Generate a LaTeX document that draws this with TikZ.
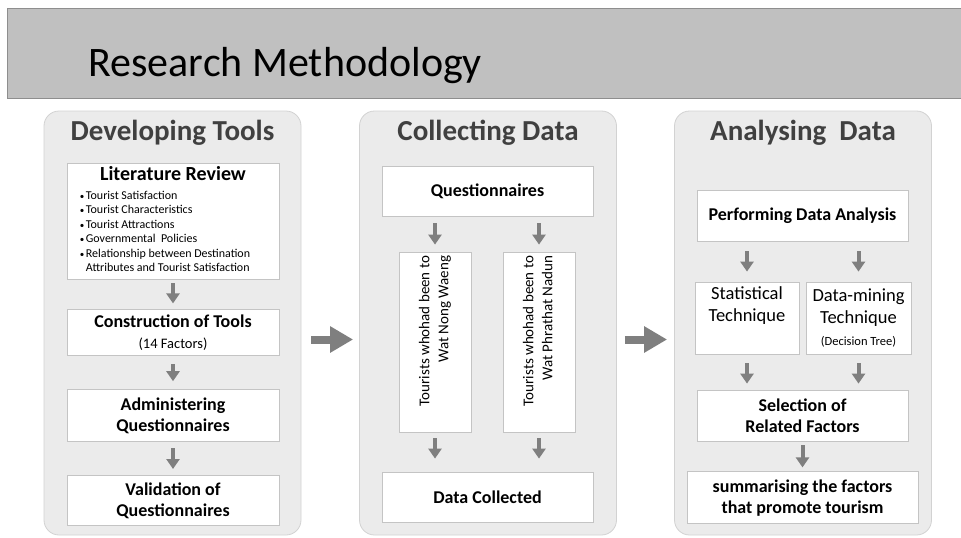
\documentclass[tikz,border=0pt]{standalone}
\usepackage{fontspec}
\setmainfont{Carlito}
\usepackage{graphicx}
\usepackage{tikz}
\usetikzlibrary{arrows.meta,positioning}

\definecolor{bandgray}{HTML}{C0C0C0}
\definecolor{bandline}{HTML}{8E8E8E}
\definecolor{panelfill}{HTML}{EBEBEB}
\definecolor{panelline}{HTML}{D2D2D2}
\definecolor{boxline}{HTML}{C4C4C4}
\definecolor{arrowgray}{HTML}{7F7F7F}
\definecolor{headtext}{HTML}{404040}

\newcommand{\boxbf}{\bfseries\fontsize{18}{21}\selectfont}
\newcommand{\subline}[1]{{\fontsize{12.5}{20}\selectfont #1}}

\begin{document}
\begin{tikzpicture}[x=1pt,y=-1pt,node distance=30pt]
  \tikzstyle{panel}=[draw=panelline,fill=panelfill,line width=0.8pt,rounded corners=15pt,
                     minimum width=257pt,minimum height=424pt]
  \tikzstyle{paneltitle}=[text=headtext,font=\bfseries\fontsize{29}{32}\selectfont]
  \tikzstyle{box}=[draw=boxline,fill=white,line width=0.8pt,align=center,inner sep=2pt,
                   minimum width=212pt,font=\boxbf]
  \tikzstyle{tallbox}=[box,minimum width=72pt,minimum height=180pt,
                       font=\fontsize{15}{19}\selectfont]
  \tikzstyle{flow}=[-{Triangle[width=13pt,length=10pt]},line width=4pt,color=arrowgray]
  \tikzstyle{bigflow}=[-{Triangle[width=25pt,length=23pt]},line width=8pt,color=arrowgray]

  \useasboundingbox (0,0) rectangle (961,538);

  % title band
  \fill[bandgray] (7,8) rectangle (961,98);
  \draw[bandline,line width=1pt] (961,8) -- (7,8) -- (7,98) -- (961,98);
  \node[anchor=base west,font=\fontsize{42}{48}\selectfont] (title) at (85,76) {Research Methodology};

  % three stages
  \node[panel] (devp) at (172.5,323) {};
  \node[panel] (colp) at (488,323) {};
  \node[panel] (anap) at (803,323) {};
  \node[paneltitle] (devt) at (172.5,133) {Developing Tools};
  \node[paneltitle] (colt) at (488,133) {Collecting Data};
  \node[paneltitle] (anat) at (803,133) {Analysing~~Data};

  % developing tools
  \node[box,minimum height=116pt,font=\bfseries\fontsize{20}{22}\selectfont] (lit) at (173,221)
    {Literature Review\\[-3pt]
     \mdseries\fontsize{12}{14.5}\selectfont
     \begin{tabular}[t]{@{}l@{\hspace{1.5pt}}l@{}}
       {\small\textbullet} & Tourist Satisfaction\\
       {\small\textbullet} & Tourist Characteristics\\
       {\small\textbullet} & Tourist Attractions\\
       {\small\textbullet} & Governmental~ Policies\\
       {\small\textbullet} & Relationship between Destination\\
                           & Attributes and Tourist Satisfaction
     \end{tabular}\hspace*{16pt}};
  \node[box,minimum height=46pt] (cons) [below=30pt of lit]
    {Construction of Tools\\{\mdseries\fontsize{14.5}{17}\selectfont (14 Factors)}};
  \node[box,minimum height=52pt] (admin) [below=33pt of cons] {Administering\\Questionnaires};
  \node[box,minimum height=50pt] (valid) [below=33pt of admin] {Validation of\\Questionnaires};

  % collecting data
  \node[box,minimum width=211pt,minimum height=50pt] (quest) at (487.5,191) {Questionnaires};
  \node[tallbox] (waeng) at (435,342)
    {\rotatebox{90}{\hspace{22pt}\begin{tabular}{@{}r@{}}Tourists whohad been to\\Wat Nong Waeng\end{tabular}}};
  \node[tallbox] (nadun) at (539,342)
    {\rotatebox{90}{\hspace{22pt}\begin{tabular}{@{}r@{}}Tourists whohad been to\\Wat Phrathat Nadun\end{tabular}}};
  \node[box,minimum width=211pt,minimum height=50pt] (dcol) at (487.5,497) {Data Collected};

  % analysing data
  \node[box,minimum width=211pt,minimum height=51pt] (perf) at (802.5,215.5) {Performing Data Analysis};
  \node[box,minimum width=104pt,minimum height=72pt,font=\fontsize{18.5}{22}\selectfont] (stat) at (747,318)
    {Statistical\\Technique\\\subline{\strut}};
  \node[box,minimum width=105pt,minimum height=72pt,font=\fontsize{18.5}{22}\selectfont] (mine) at (858.5,318)
    {Data-mining\\Technique\\\subline{(Decision Tree)}};
  \node[box,minimum width=211pt,minimum height=51pt] (sel) at (802.5,415.5) {Selection of\\Related Factors};
  \node[box,minimum width=231pt,minimum height=52pt] (summ) [below=30pt of sel]
    {summarising the factors\\that promote tourism};

  \path[flow] (lit)   edge [shorten <=4pt,shorten >=6pt] (cons)
              (cons)  edge [shorten <=8pt,shorten >=8pt] (admin)
              (admin) edge [shorten <=6pt,shorten >=6pt] (valid)
              (quest.south -| waeng) edge [shorten <=7pt,shorten >=7pt] (waeng)
              (quest.south -| nadun) edge [shorten <=7pt,shorten >=7pt] (nadun)
              (waeng) edge [shorten <=6pt,shorten >=13pt] (waeng.south |- dcol.north)
              (nadun) edge [shorten <=6pt,shorten >=13pt] (nadun.south |- dcol.north)
              (perf.south -| stat) edge [shorten <=10pt,shorten >=10pt] (stat)
              (perf.south -| mine) edge [shorten <=10pt,shorten >=10pt] (mine)
              (stat) edge [shorten <=9pt,shorten >=6pt] (stat.south |- sel.north)
              (mine) edge [shorten <=9pt,shorten >=6pt] (mine.south |- sel.north)
              (sel)  edge [shorten <=4pt,shorten >=4pt] (summ);

  \path[bigflow] ([yshift=-16.5pt]devp.east) edge [shorten <=10pt,shorten >=6pt] ([yshift=-16.5pt]colp.west)
                 ([yshift=-16.5pt]colp.east) edge [shorten <=8pt,shorten >=7pt] ([yshift=-16.5pt]anap.west);
\end{tikzpicture}
\end{document}
